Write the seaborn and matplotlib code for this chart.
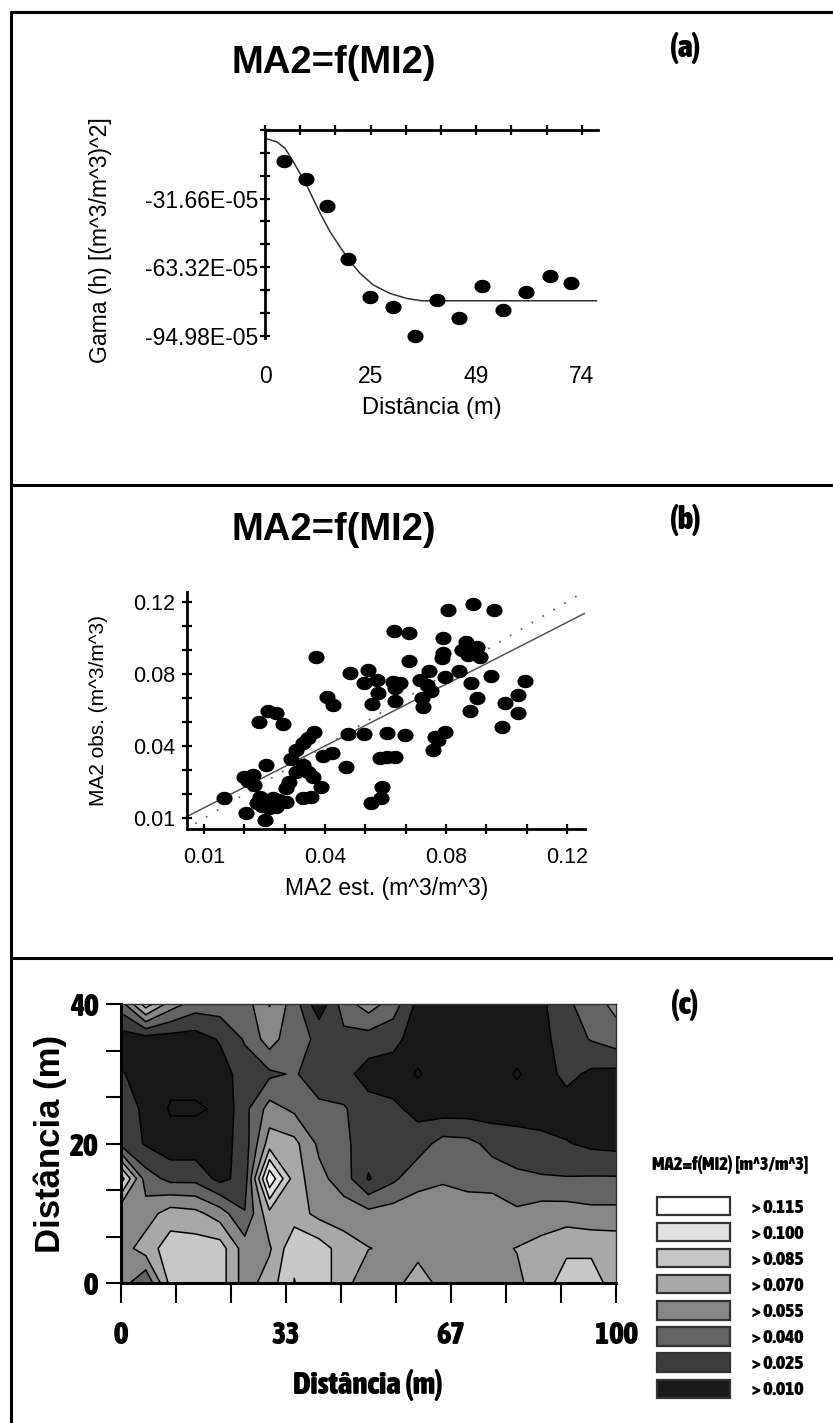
import numpy as np
import matplotlib
matplotlib.use("Agg")
import matplotlib.pyplot as plt
import seaborn as sns
from matplotlib import font_manager as fm
from matplotlib.patches import Patch
from matplotlib.lines import Line2D
from matplotlib.path import Path

# ---------------- data ----------------
# (a) semivariogram: experimental points
lag_h = [4.5, 9.5, 14.4, 19.5, 24.5, 30.0, 35.0, 40.3, 45.4, 50.8, 55.7, 60.9, 66.6, 71.4]
gamma_h = [-14.2, -22.6, -35.0, -59.8, -77.3, -81.9, -95.2, -78.6, -87.0, -71.9, -83.2, -74.7, -67.3, -70.5]
# (a) fitted model curve
model_h = [0, 2.7, 4.7, 6.6, 9.7, 12.9, 15.2, 17.5, 19.9, 22.2, 25.3, 29.2, 33.1, 36.6, 77.5]
model_g = [-3.9, -5.4, -8.5, -14.6, -25.4, -38.5, -47.0, -53.9, -60.8, -66.2, -71.6, -75.5, -77.8, -78.9, -78.9]
a_xticks = [0, 8.22, 16.44, 24.67, 32.89, 41.11, 49.33, 57.56, 65.78, 74]
a_xlabels = ["0", "", "", "25", "", "", "49", "", "", "74"]
a_yticks = [0, -10.55, -21.11, -31.66, -42.21, -52.77, -63.32, -73.87, -84.43, -94.98]
a_ylabels = ["", "", "", "-31.66E-05", "", "", "-63.32E-05", "", "", "-94.98E-05"]

# (b) cross validation: estimated vs observed
ma2_est = [0.0439, 0.0542, 0.0596, 0.0585, 0.0623, 0.0626, 0.0608, 0.0474, 0.0490, 0.0293,
           0.0318, 0.0268, 0.0338, 0.0434, 0.0414, 0.0399, 0.0535, 0.0585, 0.0379,
           0.0363, 0.0459, 0.0488, 0.0288, 0.0530, 0.0399, 0.0414, 0.0222, 0.0247, 0.0252,
           0.0232, 0.0358, 0.0379, 0.0429, 0.0454, 0.0348, 0.0162, 0.0262, 0.0288, 0.0308,
           0.0328, 0.0348, 0.0298, 0.0318, 0.0275, 0.0399, 0.0424, 0.0227, 0.0285, 0.0606,
           0.0636, 0.0638, 0.0840, 0.0915, 0.0979, 0.0675, 0.0722, 0.0825, 0.0722, 0.0825,
           0.0820, 0.0895, 0.0880, 0.0915, 0.0936, 0.0900, 0.0926, 0.0781, 0.0872, 0.0830,
           0.0754, 0.0774, 0.0789, 0.0673, 0.0693, 0.0678, 0.0968, 0.1072, 0.0910, 0.1052,
           0.0926, 0.1011, 0.0678, 0.0761, 0.0764, 0.0905, 0.1052, 0.1004, 0.0653, 0.0709,
           0.0830, 0.0799, 0.0809, 0.0794, 0.0653, 0.0678, 0.0633, 0.0270]
ma2_obs = [0.0921, 0.0836, 0.0853, 0.0786, 0.0803, 0.0735, 0.0681, 0.0718, 0.0676, 0.0645,
           0.0633, 0.0588, 0.0577, 0.0540, 0.0506, 0.0481, 0.0527, 0.0527, 0.0447,
           0.0401, 0.0418, 0.0430, 0.0371, 0.0362, 0.0371, 0.0337, 0.0312, 0.0320, 0.0269,
           0.0291, 0.0286, 0.0337, 0.0312, 0.0261, 0.0252, 0.0202, 0.0176, 0.0185, 0.0202,
           0.0193, 0.0185, 0.0151, 0.0159, 0.0163, 0.0202, 0.0210, 0.0129, 0.0092, 0.0176,
           0.0202, 0.0261, 0.1158, 0.1189, 0.1158, 0.1051, 0.1040, 0.1014, 0.0899, 0.0938,
           0.0913, 0.0997, 0.0955, 0.0946, 0.0921, 0.0930, 0.0972, 0.0848, 0.0848, 0.0819,
           0.0803, 0.0777, 0.0747, 0.0794, 0.0786, 0.0760, 0.0825, 0.0797, 0.0786, 0.0726,
           0.0713, 0.0684, 0.0696, 0.0709, 0.0667, 0.0645, 0.0633, 0.0566, 0.0532, 0.0523,
           0.0540, 0.0515, 0.0498, 0.0447, 0.0413, 0.0413, 0.0408, 0.0210]
fit_x = [0.0052, 0.1253]
fit_y = [0.0112, 0.1141]
one_x = [0.0073, 0.1243]
one_y = [0.0073, 0.1243]
b_ticks = [0.01, 0.02222, 0.03444, 0.04667, 0.05889, 0.07111, 0.08333, 0.09556, 0.10778, 0.12]
b_labels = ["0.01", "", "", "0.04", "", "", "0.08", "", "", "0.12"]

# (c) kriged map MA2 (m^3/m^3), rows from y=40 (top) down to y=0
grid_x = [0, 5, 10, 15, 20, 25, 30, 35, 40, 45, 50, 55, 60, 65, 70, 75, 80, 85, 90, 95, 100]
grid_y_top_down = [40, 35, 30, 25, 20, 15, 10, 5, 0]
ma2_map = [
    [0.0475, 0.0925, 0.0625, 0.0475, 0.0475, 0.0475, 0.0705, 0.0475, 0.0145, 0.0475, 0.0625, 0.0475, 0.0205, 0.0175, 0.0175, 0.0175, 0.0175, 0.0220, 0.0370, 0.0475, 0.0595],
    [0.0175, 0.0175, 0.0175, 0.0175, 0.0265, 0.0415, 0.0625, 0.0430, 0.0385, 0.0355, 0.0325, 0.0295, 0.0175, 0.0175, 0.0175, 0.0175, 0.0175, 0.0205, 0.0325, 0.0410, 0.0475],
    [0.0260, 0.0205, 0.0145, 0.0145, 0.0175, 0.0325, 0.0370, 0.0415, 0.0325, 0.0295, 0.0190, 0.0175, 0.0085, 0.0175, 0.0175, 0.0175, 0.0085, 0.0175, 0.0295, 0.0220, 0.0205],
    [0.0325, 0.0220, 0.0085, 0.0085, 0.0115, 0.0355, 0.0610, 0.0520, 0.0430, 0.0415, 0.0310, 0.0280, 0.0205, 0.0175, 0.0175, 0.0175, 0.0175, 0.0175, 0.0175, 0.0175, 0.0175],
    [0.0355, 0.0235, 0.0160, 0.0160, 0.0175, 0.0325, 0.0775, 0.0745, 0.0520, 0.0430, 0.0325, 0.0325, 0.0325, 0.0460, 0.0445, 0.0355, 0.0325, 0.0295, 0.0260, 0.0220, 0.0205],
    [0.1075, 0.0475, 0.0355, 0.0355, 0.0205, 0.0310, 0.1270, 0.0775, 0.0595, 0.0475, 0.0235, 0.0370, 0.0505, 0.0535, 0.0505, 0.0475, 0.0430, 0.0415, 0.0410, 0.0415, 0.0415],
    [0.0555, 0.0625, 0.0775, 0.0745, 0.0625, 0.0410, 0.0805, 0.0775, 0.0655, 0.0625, 0.0595, 0.0625, 0.0625, 0.0625, 0.0625, 0.0655, 0.0580, 0.0625, 0.0625, 0.0595, 0.0595],
    [0.0625, 0.0775, 0.0925, 0.0925, 0.0925, 0.0625, 0.0680, 0.0970, 0.0925, 0.0775, 0.0705, 0.0670, 0.0670, 0.0670, 0.0670, 0.0670, 0.0705, 0.0745, 0.0820, 0.0820, 0.0805],
    [0.0625, 0.0410, 0.0895, 0.0970, 0.0925, 0.0625, 0.0775, 0.1005, 0.0925, 0.0775, 0.0555, 0.0670, 0.0745, 0.0670, 0.0670, 0.0670, 0.0670, 0.0775, 0.0925, 0.0925, 0.0775],
]
map_levels = [-1.0, 0.010, 0.025, 0.040, 0.055, 0.070, 0.085, 0.100, 0.115, 1.0]
map_colors = ["#181818", "#181818", "#3c3c3c", "#636363", "#878787", "#a8a8a8", "#c7c7c7", "#e1e1e1", "#ffffff"]
legend_labels = ["> 0.115", "> 0.100", "> 0.085", "> 0.070", "> 0.055", "> 0.040", "> 0.025", "> 0.010"]
c_xticks = [0, 11.11, 22.22, 33.33, 44.44, 55.56, 66.67, 77.78, 88.89, 100]
c_xlabels = ["0", "", "", "33", "", "", "67", "", "", "100"]
c_yticks = [0, 6.67, 13.33, 20, 26.67, 33.33, 40]
c_ylabels = ["0", "", "", "20", "", "", "40"]

# ---------------- style / fonts ----------------
sns.set_style("white")
plt.rcParams["font.family"] = ["Liberation Sans", "DejaVu Sans"]
plt.rcParams["text.color"] = "black"
plt.rcParams["axes.labelcolor"] = "black"
plt.rcParams["xtick.color"] = "black"
plt.rcParams["ytick.color"] = "black"


def _weight(f):
    w = f.weight
    if isinstance(w, str):
        w = fm.weight_dict.get(w, 400)
    return w


def find_font(preds):
    for p in preds:
        for f in fm.fontManager.ttflist:
            try:
                if p(f):
                    return f.fname
            except Exception:
                pass
    return None


cond_path = find_font([
    lambda f: f.name == "Liberation Sans Narrow" and _weight(f) >= 600 and f.style == "normal",
    lambda f: f.name.startswith("Noto Sans") and f.stretch == "condensed" and _weight(f) == 700
    and f.style == "normal" and "Mono" not in f.name,
    lambda f: "Condensed" in f.name and _weight(f) >= 600 and f.style == "normal" and "Mono" not in f.name,
    lambda f: f.name == "DejaVu Sans" and f.stretch == "condensed" and _weight(f) >= 600 and f.style == "normal",
])


def cond(size):
    if cond_path:
        fp = fm.FontProperties(fname=cond_path)
    else:
        fp = fm.FontProperties(family="Liberation Sans", weight="bold")
    fp.set_size(size)
    return fp


def sans(size, weight="normal"):
    return fm.FontProperties(family=["Liberation Sans", "DejaVu Sans"], weight=weight, size=size)


W, H = 833, 1423
fig = plt.figure(figsize=(W / 100, H / 100), dpi=100)
fig.patch.set_facecolor("white")


def fx(px):
    return px / W


def fy(py):
    return 1 - py / H


# outer table frame
for y in (12, 485, 958):
    fig.add_artist(Line2D([fx(11), 1.0], [fy(y), fy(y)], transform=fig.transFigure, color="black", lw=2.2))
fig.add_artist(Line2D([fx(11), fx(11)], [fy(12), 0.0], transform=fig.transFigure, color="black", lw=2.2))

# elliptical dot marker (picture is horizontally stretched)
t = np.linspace(0, 2 * np.pi, 41)
ellipse = Path(np.column_stack([1.2 * np.cos(t), np.sin(t)]))

# ---------------- panel (a) ----------------
axA = fig.add_axes([fx(265), fy(337.8), fx(598) - fx(265), fy(130) - fy(337.8)])
sns.lineplot(x=model_h, y=model_g, ax=axA, color="#333333", linewidth=1.1, sort=False, estimator=None)
sns.scatterplot(x=lag_h, y=gamma_h, ax=axA, marker=ellipse, s=135, color="black", edgecolor="black",
                linewidth=0, zorder=3, clip_on=False)
axA.set_xlim(0, 77.8)
axA.set_ylim(-96, 0)
for s in ("bottom", "right"):
    axA.spines[s].set_visible(False)
for s in ("top", "left"):
    axA.spines[s].set_linewidth(2.0)
    axA.spines[s].set_color("black")
axA.set_xticks(a_xticks)
axA.set_xticklabels(a_xlabels)
axA.set_yticks(a_yticks)
axA.set_yticklabels(a_ylabels)
axA.tick_params(axis="x", top=True, bottom=False, labeltop=False, labelbottom=True,
                direction="inout", length=7, width=1.6, pad=16, labelsize=16.5, colors="black")
axA.tick_params(axis="y", left=True, direction="inout", length=7, width=1.6, pad=1.5,
                labelsize=16.5, colors="black")
axA.set_xlabel("Distância (m)", fontproperties=sans(17), va="center")
axA.xaxis.set_label_coords((431.7 - 265) / 333, (337.8 - 408.3) / 207.8)
axA.set_ylabel("Gama (h) [(m^3/m^3)^2]", fontproperties=sans(16.5), va="center")
axA.yaxis.set_label_coords((101 - 265) / 333, (337.8 - 240) / 207.8)
axA.set_title("MA2=f(MI2)", fontproperties=sans(27.5, "bold"), x=(333.7 - 265) / 333,
              y=(337.8 - 71.7) / 207.8, va="center")
fig.text(fx(685), fy(48), "(a)", ha="center", va="center", fontproperties=cond(23))

# ---------------- panel (b) ----------------
axB = fig.add_axes([fx(186.7), fy(829.3), fx(585) - fx(186.7), fy(591.7) - fy(829.3)])
sns.lineplot(x=one_x, y=one_y, ax=axB, color="#666666", linewidth=1.3, linestyle=(0, (1, 6)),
             sort=False, estimator=None)
sns.lineplot(x=fit_x, y=fit_y, ax=axB, color="#555555", linewidth=1.1, sort=False, estimator=None)
sns.scatterplot(x=ma2_est, y=ma2_obs, ax=axB, marker=ellipse, s=135, color="black", edgecolor="black",
                linewidth=0, zorder=3, clip_on=False)
axB.set_xlim(0.00476, 0.1254)
axB.set_ylim(0.00441, 0.1251)
for s in ("top", "right"):
    axB.spines[s].set_visible(False)
for s in ("bottom", "left"):
    axB.spines[s].set_linewidth(2.0)
    axB.spines[s].set_color("black")
axB.set_xticks(b_ticks)
axB.set_xticklabels(b_labels)
axB.set_yticks(b_ticks)
axB.set_yticklabels(b_labels)
axB.tick_params(axis="x", bottom=True, direction="inout", length=7, width=1.6, pad=9,
                labelsize=15.5, colors="black")
axB.tick_params(axis="y", left=True, direction="inout", length=7, width=1.6, pad=4.5,
                labelsize=15.5, colors="black")
axB.set_xlabel("MA2 est. (m^3/m^3)", fontproperties=sans(16.5), va="center")
axB.xaxis.set_label_coords((386.5 - 186.7) / 398.3, (829.3 - 888) / 237.6)
axB.set_ylabel("MA2 obs. (m^3/m^3)", fontproperties=sans(15), va="center")
axB.yaxis.set_label_coords((98 - 186.7) / 398.3, 0.5)
axB.set_title("MA2=f(MI2)", fontproperties=sans(27.5, "bold"), x=(333.7 - 186.7) / 398.3,
              y=(829.3 - 538) / 237.6, va="center")
fig.text(fx(685), fy(520), "(b)", ha="center", va="center", fontproperties=cond(23))

# ---------------- panel (c) ----------------
axC = fig.add_axes([fx(121), fy(1283.3), fx(616) - fx(121), fy(1004.3) - fy(1283.3)])
Z = np.array(ma2_map)[::-1]
gy = list(grid_y_top_down)[::-1]
axC.contourf(grid_x, gy, Z, levels=map_levels, colors=map_colors)
axC.contour(grid_x, gy, Z, levels=map_levels[1:-1], colors="#000000", linewidths=1.1)
axC.set_xlim(0, 100)
axC.set_ylim(0, 40)
for s in ("left", "bottom"):
    axC.spines[s].set_linewidth(2.2)
    axC.spines[s].set_color("black")
for s in ("top", "right"):
    axC.spines[s].set_linewidth(1.0)
    axC.spines[s].set_color("#333333")
axC.set_xticks(c_xticks)
axC.set_xticklabels(c_xlabels)
axC.set_yticks(c_yticks)
axC.set_yticklabels(c_ylabels)
axC.tick_params(axis="x", bottom=True, direction="out", length=14.4, width=1.5, pad=12, colors="black")
axC.tick_params(axis="y", left=True, direction="out", length=10.8, width=1.5, pad=5.5, colors="black")
for lab in axC.get_xticklabels() + axC.get_yticklabels():
    lab.set_fontproperties(cond(22))
axC.set_xlabel("Distância (m)", fontproperties=cond(22.5), va="center")
axC.xaxis.set_label_coords((368 - 121) / 495, (1283.3 - 1385) / 279)
axC.set_ylabel("Distância (m)", fontproperties=sans(25, "bold"), va="center")
axC.yaxis.set_label_coords((50 - 121) / 495, (1283.3 - 1143.5) / 279)
fig.text(fx(685), fy(1005), "(c)", ha="center", va="center", fontproperties=cond(23))

# legend
handles = [Patch(facecolor=c, edgecolor="#333333", linewidth=1.6) for c in map_colors[::-1][:8]]
fs_leg = 14
px_per = fs_leg * 100 / 72
fig.legend(handles, legend_labels, loc="upper left", bbox_to_anchor=(fx(657), fy(1196.7)),
           frameon=False, borderpad=0, borderaxespad=0, prop=cond(fs_leg),
           handlelength=73 / px_per, handleheight=21 / px_per, labelspacing=(27.3 - 21) / px_per,
           handletextpad=22 / px_per)
fig.text(fx(730.6), fy(1165), "MA2=f(MI2) [m^3/m^3]", ha="center", va="center", fontproperties=cond(13.5))

fig.savefig("out.png", dpi=100, facecolor="white")
